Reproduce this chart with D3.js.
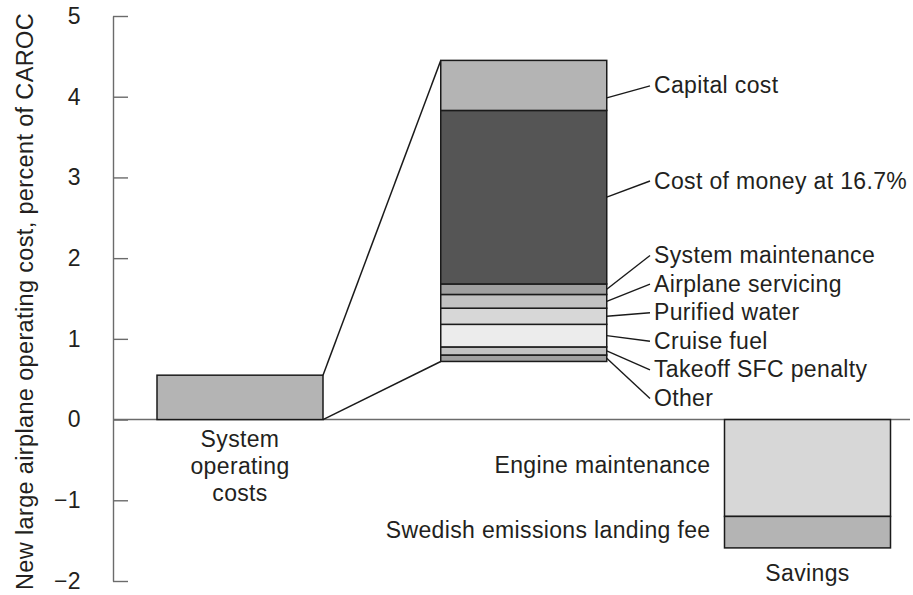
<!DOCTYPE html>
<html>
<head>
<meta charset="utf-8">
<script src="https://cdn.jsdelivr.net/npm/d3@7"></script>
<style>
  html, body { margin: 0; padding: 0; background: #fff; }
  svg { display: block; }
  text { font-family: "Liberation Sans", Arial, Helvetica, sans-serif; fill: #231f20; letter-spacing: 0.35px; }
</style>
</head>
<body>
<svg id="chart" width="913" height="595"></svg>
<script>
// Column categories and their captions
const categories = ["operating", "breakdown", "savings"];
const categoryCaptions = [["System", "operating", "costs"], [], ["Savings"]];

// Total system operating cost (percent of CAROC)
const systemOperatingCost = [0.55];

// Breakdown column: floating stack, listed from the bottom up
const breakdownBase = 0.72;
const breakdownLabels = ["Other", "Takeoff SFC penalty", "Cruise fuel", "Purified water",
  "Airplane servicing", "System maintenance", "Cost of money at 16.7%", "Capital cost"];
const breakdownValues = [0.08, 0.10, 0.28, 0.20, 0.17, 0.13, 2.15, 0.62];
const breakdownFills = ["#a0a0a0", "#c2c2c2", "#ececec", "#d7d7d7",
  "#c2c2c2", "#a0a0a0", "#555555", "#b4b4b4"];

// Savings column: stacked downward from zero
const savingsLabels = ["Engine maintenance", "Swedish emissions landing fee"];
const savingsValues = [-1.20, -0.39];
const savingsFills = ["#d7d7d7", "#b4b4b4"];

// Axis
const yTicks = [-2, -1, 0, 1, 2, 3, 4, 5];
const yTitle = "New large airplane operating cost, percent of CAROC";

const svg = d3.select("#chart");
const axisX = 113, zeroRight = 910;
const barW = 166;
const ink = "#231f20";
const fontPx = 23;

const y = d3.scaleLinear().domain([-2, 5]).range([581, 16]);
const x = d3.scalePoint().domain(categories).range([240, 807.5]);
const left = c => x(c) - barW / 2;
const right = c => x(c) + barW / 2;

// Y axis with inward ticks
const axis = d3.axisLeft(y).tickValues(yTicks).tickSizeInner(-15).tickSizeOuter(0).tickPadding(32)
  .tickFormat(d3.format("d"));
const gAxis = svg.append("g").attr("transform", `translate(${axisX},0)`).call(axis);
gAxis.select(".domain").attr("stroke", "#6b6b6b").attr("stroke-width", 1.4);
gAxis.selectAll(".tick line").attr("stroke", "#6b6b6b").attr("stroke-width", 1.4);
gAxis.selectAll(".tick text").attr("font-size", fontPx).attr("fill", ink)
  .style("font-family", '"Liberation Sans", Arial, Helvetica, sans-serif');

// Zero baseline
svg.append("line").attr("x1", axisX).attr("x2", zeroRight)
  .attr("y1", y(0)).attr("y2", y(0)).attr("stroke", "#6b6b6b").attr("stroke-width", 1.4);

// Y axis title
svg.append("text")
  .attr("transform", `translate(33,${(y(5) + y(-2)) / 2 + 3}) rotate(-90)`)
  .attr("text-anchor", "middle").attr("font-size", 23.5).text(yTitle);

const barStroke = g => g.attr("stroke", "#1a1a1a").attr("stroke-width", 1.5);

// System operating costs bar
svg.append("rect")
  .attr("x", left("operating")).attr("width", barW)
  .attr("y", y(systemOperatingCost[0])).attr("height", y(0) - y(systemOperatingCost[0]))
  .attr("fill", "#b4b4b4").call(barStroke);

// Breakdown stack
let acc = breakdownBase;
const stack = breakdownValues.map((v, i) => {
  const s = { label: breakdownLabels[i], fill: breakdownFills[i], y0: acc, y1: acc + v };
  acc += v;
  return s;
});
const breakdownTop = acc;

// Expansion lines joining the operating cost bar to the breakdown
svg.append("line")
  .attr("x1", right("operating")).attr("y1", y(systemOperatingCost[0]))
  .attr("x2", left("breakdown")).attr("y2", y(breakdownTop))
  .attr("stroke", "#1a1a1a").attr("stroke-width", 1.5);
svg.append("line")
  .attr("x1", right("operating")).attr("y1", y(0))
  .attr("x2", left("breakdown")).attr("y2", y(breakdownBase))
  .attr("stroke", "#1a1a1a").attr("stroke-width", 1.5);

svg.append("g").selectAll("rect").data(stack).join("rect")
  .attr("x", left("breakdown")).attr("width", barW)
  .attr("y", d => y(d.y1)).attr("height", d => y(d.y0) - y(d.y1))
  .attr("fill", d => d.fill).call(barStroke);

// Breakdown callouts: small items stacked evenly, large items beside their segment
const labelX = 654, leaderEndX = 650;
const smallStep = 28.6, smallBottom = 406;
const baselineFor = (d, i) => {
  if (i < 6) return smallBottom - i * smallStep;
  if (i === 6) return y(d.y0 + (d.y1 - d.y0) * 0.55);
  return y((d.y0 + d.y1) / 2) + 8;
};
const anchorFrac = [0.5, 0.5, 0.5, 0.5, 0.5, 0.5, 0.5, 0.25];
const gCall = svg.append("g");
stack.forEach((d, i) => {
  const base = baselineFor(d, i);
  gCall.append("line")
    .attr("x1", right("breakdown")).attr("y1", y(d.y0 + (d.y1 - d.y0) * anchorFrac[i]))
    .attr("x2", leaderEndX).attr("y2", base - 7.5)
    .attr("stroke", "#1a1a1a").attr("stroke-width", 1.4);
  gCall.append("text").attr("x", labelX).attr("y", base)
    .attr("font-size", fontPx).text(d.label);
});

// Savings stack
let sacc = 0;
const sstack = savingsValues.map((v, i) => {
  const s = { label: savingsLabels[i], fill: savingsFills[i], y0: sacc, y1: sacc + v };
  sacc += v;
  return s;
});
svg.append("g").selectAll("rect").data(sstack).join("rect")
  .attr("x", left("savings")).attr("width", barW)
  .attr("y", d => y(d.y0)).attr("height", d => y(d.y1) - y(d.y0))
  .attr("fill", d => d.fill).call(barStroke);

const savingsBaselines = [473, 538];
svg.append("g").selectAll("text").data(sstack).join("text")
  .attr("x", left("savings") - 14).attr("y", (d, i) => savingsBaselines[i])
  .attr("text-anchor", "end").attr("font-size", fontPx).text(d => d.label);

// Column captions
categories.forEach((c, i) => {
  const lines = categoryCaptions[i];
  const top = c === "savings" ? y(sacc) + 33 : y(0) + 27;
  lines.forEach((t, j) => {
    svg.append("text").attr("x", x(c)).attr("y", top + j * 27)
      .attr("text-anchor", "middle").attr("font-size", fontPx).text(t);
  });
});
</script>
</body>
</html>
